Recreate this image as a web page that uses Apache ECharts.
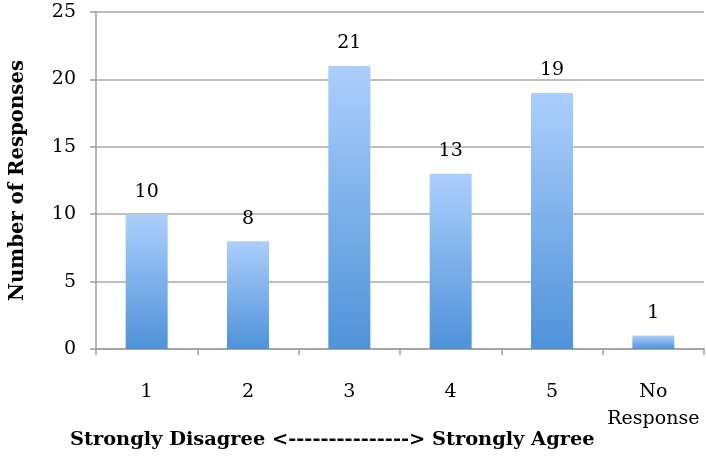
<!DOCTYPE html>
<html>
<head>
<meta charset="utf-8">
<script src="https://cdn.jsdelivr.net/npm/echarts@6/dist/echarts.min.js"></script>
<style>
html,body{margin:0;padding:0;background:#fff;}
#c{width:706px;height:457px;}
</style>
</head>
<body>
<div id="c"></div>
<script>
var categories = ['1', '2', '3', '4', '5', 'No\nResponse'];
var responses = [10, 8, 21, 13, 19, 1];
var yTicks = [0, 5, 10, 15, 20, 25];
var xTitle = 'Strongly Disagree <---------------> Strongly Agree';
var yTitle = 'Number of Responses';

var F = '"DejaVu Serif", "Liberation Serif", serif';
var chart = echarts.init(document.getElementById('c'));
chart.setOption({
  animation: false,
  grid: {left: 93, right: 2, top: 12, bottom: 108},
  xAxis: {
    type: 'category',
    data: categories,
    axisLine: {lineStyle: {color: '#9c9c9c', width: 1.5}},
    axisTick: {show: true, interval: 0, length: 6, lineStyle: {color: '#9c9c9c', width: 1.5}},
    axisLabel: {interval: 0, color: '#000', fontFamily: F, fontSize: 19, margin: 30, lineHeight: 27}
  },
  yAxis: {
    type: 'value',
    min: 0, max: 25, interval: 5,
    name: yTitle,
    nameLocation: 'middle',
    nameGap: 68,
    nameTextStyle: {color: '#000', fontFamily: F, fontSize: 19.7, fontWeight: 'bold'},
    axisLine: {show: true, lineStyle: {color: '#9c9c9c', width: 1.5}},
    axisTick: {show: true, length: 6, lineStyle: {color: '#9c9c9c', width: 1.5}},
    axisLabel: {color: '#000', fontFamily: F, fontSize: 19, margin: 20},
    splitLine: {lineStyle: {color: '#a8a8a8', width: 1.5}}
  },
  graphic: [{
    type: 'text',
    left: 70,
    top: 430,
    style: {text: xTitle, fill: '#000', font: 'bold 19.4px ' + F}
  }],
  series: [{
    type: 'bar',
    data: responses,
    barWidth: 42,
    itemStyle: {
      color: new echarts.graphic.LinearGradient(0, 0, 0, 1, [
        {offset: 0, color: '#abcffc'},
        {offset: 1, color: '#4f92d9'}
      ])
    },
    label: {show: true, position: 'top', distance: 13, color: '#000', fontFamily: F, fontSize: 19}
  }]
});
</script>
</body>
</html>
